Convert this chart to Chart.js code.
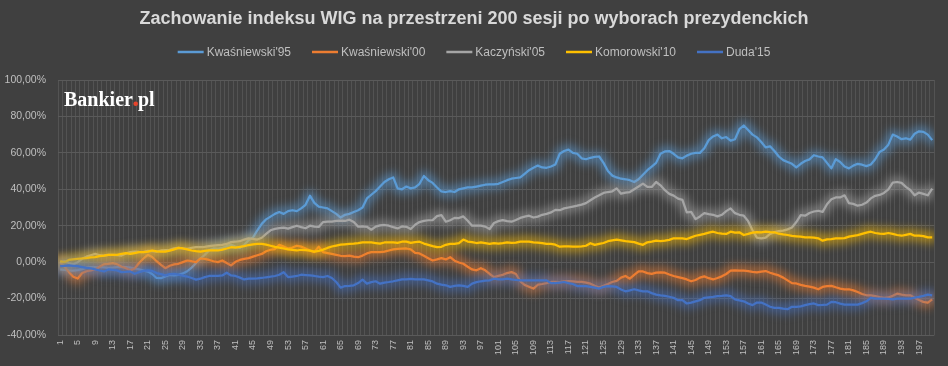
<!DOCTYPE html>
<html>
<head>
<meta charset="utf-8">
<script src="https://cdn.jsdelivr.net/npm/chart.js@4.4.1/dist/chart.umd.min.js"></script>
<style>
  html, body { margin: 0; padding: 0; background: #404040; }
  canvas { display: block; }
</style>
</head>
<body>
<canvas id="wig" width="948" height="366"></canvas>
<script>
// sesje 1..200 po wyborach
const sesje = Array.from({length: 200}, (_, i) => String(i + 1))

const tytul = 'Zachowanie indeksu WIG na przestrzeni 200 sesji po wyborach prezydenckich'
const nazwy = ["Kwaśniewski'95", "Kwaśniewski'00", "Kaczyński'05", "Komorowski'10", "Duda'15"]
const kolory = ['#5B9BD5', '#ED7D31', '#A5A5A5', '#FFC000', '#4472C4']
const osY = [-40, -20, 0, 20, 40, 60, 80, 100]

// zmiana WIG w % wzgledem dnia wyborow
const kwasniewski95 = [
  -4.0, -4.2, -4.5, -4.6, -4.4, -3.8, -3.0, -2.7, -2.8, -2.7,
  -2.9, -3.2, -3.0, -2.8, -2.6, -2.7, -3.0, -3.5, -4.0, -4.6,
  -5.2, -6.5, -8.7, -8.8, -7.8, -7.0, -7.2, -7.0, -6.2, -5.0,
  -3.0, -0.5, 2.0, 4.0, 6.5, 7.5, 7.3, 7.8, 8.8, 9.5,
  8.5, 7.8, 9.5, 12.0, 13.5, 17.5, 21.0, 23.5, 25.0, 26.5,
  27.5, 26.5, 28.0, 28.5, 28.0, 29.5, 31.5, 36.5, 32.5, 30.5,
  30.0, 29.5, 28.0, 26.5, 24.5, 26.0, 26.5, 27.5, 28.5, 30.0,
  35.0, 37.0, 39.0, 41.5, 44.0, 45.5, 46.5, 40.5, 40.0, 41.5,
  40.5, 41.0, 43.0, 47.3, 45.0, 43.5, 41.0, 38.8, 38.5, 39.0,
  38.5, 40.0, 40.5, 41.0, 41.0, 41.5, 42.0, 42.5, 42.7, 42.7,
  43.0, 44.0, 45.0, 45.8, 46.2, 46.5, 48.5, 50.5, 51.8, 53.0,
  52.0, 51.8, 52.5, 53.6, 59.5, 61.0, 61.8, 60.0, 59.5, 57.0,
  56.5, 57.3, 57.8, 58.0, 54.5, 50.0, 47.5, 46.5, 45.8, 45.5,
  45.0, 44.0, 45.5, 48.0, 50.5, 52.5, 54.5, 59.5, 60.8, 61.0,
  59.5, 57.5, 57.0, 58.5, 59.5, 60.0, 60.0, 62.5, 67.0, 69.0,
  70.0, 68.0, 68.7, 66.7, 67.5, 73.0, 75.0, 72.5, 70.0, 68.5,
  66.0, 63.0, 63.6, 61.0, 58.0, 56.0, 55.0, 54.0, 52.0, 54.0,
  55.5, 56.4, 58.7, 58.0, 57.5, 54.5, 51.5, 56.5, 55.0, 52.5,
  51.5, 53.0, 54.0, 53.5, 52.7, 53.6, 56.5, 60.5, 61.8, 64.5,
  70.0, 69.0, 67.5, 68.0, 67.3, 70.5, 71.8, 71.5, 70.0, 67.0
]
const kwasniewski00 = [
  0.0, -2.5, -5.5, -8.0, -9.0, -6.0, -5.0, -4.5, -4.0, -2.5,
  -1.2, -1.0, -0.5, -1.2, -2.5, -3.3, -4.5, -3.5, -0.5, 2.0,
  4.0, 2.8, 0.5, -1.5, -3.3, -2.0, -1.2, -0.9, 0.0, 0.9,
  0.5, 0.0, 2.0, 1.8, 1.2, 0.5, 0.0, 0.9, -0.5, -1.8,
  0.2, 1.2, 1.8, 2.2, 3.0, 3.8, 4.5, 6.0, 6.8, 7.2,
  9.5, 8.5, 7.5, 8.0, 9.0, 8.5, 7.5, 6.4, 5.5, 8.5,
  5.5, 5.0, 4.5, 4.0, 3.5, 3.3, 3.6, 3.0, 2.7, 3.6,
  4.8, 5.5, 5.5, 5.5, 5.8, 6.4, 7.0, 7.3, 7.4, 7.5,
  7.0, 5.1, 4.8, 3.5, 2.2, 0.9, 1.5, 2.2, 1.5, 2.7,
  0.8, -0.2, -0.9, -2.5, -4.0, -4.5, -3.3, -4.5, -6.5, -8.2,
  -7.5, -7.0, -6.0, -5.5, -6.5, -10.5, -12.5, -13.5, -14.5, -12.4,
  -12.0, -11.5, -10.9, -10.9, -11.0, -10.5, -10.4, -10.6, -10.8, -10.8,
  -11.2, -11.8, -13.0, -14.0, -13.0, -12.0, -10.9, -10.3, -8.5, -7.6,
  -9.1, -7.0, -5.1, -5.1, -6.0, -6.4, -5.8, -5.6, -5.8, -6.8,
  -7.6, -8.2, -8.8, -9.5, -10.5, -9.8, -8.5, -7.8, -8.8, -9.5,
  -8.7, -7.8, -6.5, -4.7, -4.5, -4.7, -4.7, -4.9, -5.3, -5.6,
  -5.2, -4.9, -5.8, -6.6, -7.3, -8.5, -10.0, -11.5, -11.7, -12.5,
  -13.0, -13.4, -14.0, -14.9, -13.6, -13.2, -13.0, -13.8, -14.5, -14.9,
  -14.9, -15.5, -16.4, -17.5, -18.2, -18.2, -18.6, -19.2, -19.6, -19.4,
  -18.5, -17.3, -17.8, -18.2, -18.2, -19.5, -20.8, -21.8, -22.2, -20.4
]
const kaczynski05 = [
  0.0, 0.5, -0.5, -1.2, 0.0, 1.8, 3.0, 3.8, 4.5, 3.8,
  3.6, 4.0, 4.0, 3.8, 3.6, 4.8, 5.5, 5.8, 5.6, 5.5,
  6.2, 6.0, 5.8, 6.4, 6.6, 6.8, 7.6, 7.8, 7.6, 7.3,
  7.8, 8.2, 8.2, 8.4, 8.8, 9.1, 9.3, 9.5, 10.0, 11.0,
  11.2, 11.5, 12.4, 13.0, 12.8, 12.4, 13.4, 15.5, 17.5, 18.3,
  18.7, 18.9, 18.4, 19.2, 20.0, 19.2, 18.6, 20.0, 19.5, 19.3,
  22.0, 22.2, 22.3, 22.7, 22.8, 22.6, 23.3, 22.0, 19.5, 19.6,
  19.4, 17.8, 19.5, 20.2, 20.4, 20.0, 19.2, 18.5, 19.6, 19.4,
  18.2, 20.5, 22.0, 22.7, 23.0, 23.1, 25.3, 25.8, 22.2, 23.0,
  24.3, 24.2, 25.1, 22.7, 20.0, 20.0, 20.0, 19.5, 18.2, 21.5,
  22.5, 23.1, 22.5, 22.2, 23.1, 24.3, 25.0, 25.5, 24.5, 25.0,
  26.0, 26.5, 27.3, 28.7, 28.5, 29.5, 30.0, 30.5, 31.0, 31.6,
  32.4, 34.0, 35.5, 36.7, 38.0, 38.5, 38.9, 40.5, 37.6, 38.2,
  38.5, 40.0, 41.5, 43.1, 41.3, 41.3, 44.0, 42.2, 39.5, 37.5,
  36.5, 34.9, 34.2, 27.3, 27.6, 23.6, 25.1, 26.9, 26.4, 26.0,
  25.1, 26.0, 28.0, 29.5, 26.9, 26.0, 25.5, 22.5, 17.5, 13.5,
  13.1, 13.5, 15.5, 16.5, 17.0, 17.3, 18.0, 19.0, 22.0, 25.8,
  25.5, 27.0, 27.8, 28.2, 27.6, 31.8, 34.5, 35.5, 35.5, 36.7,
  32.4, 32.0, 31.0, 31.5, 32.7, 35.0, 36.4, 36.9, 38.0, 40.0,
  43.6, 44.0, 43.5, 41.3, 39.6, 36.7, 38.2, 37.5, 36.7, 40.4
]
const komorowski10 = [
  0.4, 0.0, 1.2, 1.5, 1.8, 2.0, 2.2, 2.6, 2.8, 3.3,
  3.6, 4.0, 4.0, 4.0, 4.6, 4.9, 4.5, 5.0, 5.5, 5.5,
  5.8, 6.4, 5.9, 5.8, 5.8, 6.3, 7.0, 7.8, 7.5, 7.0,
  6.4, 6.0, 5.8, 6.2, 6.4, 6.4, 6.4, 6.9, 7.5, 8.2,
  8.0, 8.4, 8.8, 9.4, 9.8, 10.0, 10.0, 9.6, 9.0, 8.4,
  8.0, 7.5, 7.0, 6.7, 6.4, 6.8, 6.6, 6.3, 5.8, 6.2,
  6.9, 7.8, 8.6, 9.1, 9.6, 9.8, 10.0, 10.2, 10.5, 10.9,
  10.9, 10.8, 10.5, 10.2, 10.8, 10.9, 10.8, 10.6, 11.2, 11.3,
  10.6, 11.0, 11.2, 10.2, 9.5, 8.8, 8.2, 8.4, 9.5, 10.0,
  10.0, 10.4, 12.4, 11.3, 11.0, 10.5, 10.8, 10.4, 10.0, 10.4,
  10.2, 10.5, 10.9, 10.6, 10.7, 11.3, 11.2, 11.3, 10.9, 10.7,
  10.4, 10.0, 10.0, 9.6, 8.5, 8.7, 8.6, 8.5, 8.5, 8.7,
  9.0, 10.4, 9.5, 10.0, 10.5, 11.5, 12.0, 12.4, 12.0, 11.5,
  11.3, 11.0, 10.2, 9.5, 10.9, 11.3, 11.8, 11.6, 11.8, 12.2,
  13.1, 13.1, 13.0, 12.7, 13.6, 14.5, 15.0, 15.5, 16.2, 16.7,
  16.0, 15.6, 15.5, 16.7, 16.2, 16.4, 14.9, 15.5, 16.2, 16.5,
  16.4, 16.7, 16.5, 16.4, 15.6, 15.2, 14.9, 14.4, 14.2, 14.0,
  13.6, 13.6, 13.5, 13.1, 11.8, 12.5, 12.7, 13.0, 13.0, 13.2,
  14.0, 14.4, 14.8, 15.5, 16.2, 16.7, 16.0, 15.7, 15.5, 16.0,
  15.5, 14.9, 14.5, 15.0, 15.5, 14.5, 14.5, 14.3, 13.6, 13.6
]
const duda15 = [
  -2.2, -2.0, -1.8, -2.0, -2.2, -2.7, -3.2, -3.4, -4.0, -4.6,
  -5.1, -4.0, -4.2, -4.5, -5.5, -5.4, -5.1, -6.4, -5.5, -4.8,
  -4.5, -4.8, -6.0, -6.6, -7.3, -6.6, -6.5, -6.9, -7.4, -7.9,
  -8.7, -9.6, -9.1, -8.2, -7.6, -7.6, -7.5, -7.3, -5.8, -7.3,
  -7.6, -8.5, -9.5, -9.1, -9.0, -8.9, -8.7, -8.3, -8.0, -7.6,
  -6.9, -5.5, -8.2, -7.9, -7.6, -6.9, -7.1, -7.3, -7.6, -8.0,
  -8.2, -7.6, -8.7, -10.9, -14.0, -13.1, -13.0, -12.7, -11.5, -9.6,
  -11.8, -11.0, -10.5, -11.8, -11.2, -10.9, -10.5, -10.0, -9.5, -9.5,
  -9.2, -9.5, -9.4, -9.5, -10.0, -10.6, -11.8, -12.3, -12.7, -13.6,
  -13.0, -12.7, -13.0, -13.6, -11.8, -11.0, -10.5, -10.2, -10.0, -9.1,
  -9.5, -9.4, -9.1, -9.5, -9.8, -10.0, -10.0, -10.0, -10.0, -10.0,
  -10.0, -10.0, -11.5, -11.5, -11.2, -10.9, -11.5, -12.0, -13.1, -13.1,
  -13.2, -13.6, -14.0, -14.5, -13.6, -13.2, -13.3, -13.6, -15.0, -16.0,
  -15.5, -14.9, -15.5, -16.0, -16.0, -17.0, -17.8, -18.2, -18.5, -19.0,
  -19.6, -20.9, -20.9, -22.7, -22.2, -21.5, -20.9, -19.6, -19.3, -19.1,
  -18.7, -18.5, -18.2, -18.7, -20.4, -21.0, -21.5, -22.7, -23.6, -22.2,
  -22.2, -23.3, -24.5, -25.1, -25.1, -25.5, -25.8, -24.5, -24.5, -24.3,
  -23.6, -23.0, -22.7, -23.6, -23.5, -23.3, -21.8, -22.0, -22.8, -23.3,
  -23.3, -23.3, -23.3, -22.5, -21.5, -19.6, -20.0, -20.0, -20.0, -20.2,
  -20.4, -20.0, -20.0, -20.0, -20.0, -19.5, -19.1, -18.5, -17.8, -18.2
]
const serie = [kwasniewski95, kwasniewski00, kaczynski05, komorowski10, duda15]

function rgba(hex, a) {
  let n = parseInt(hex.slice(1), 16)
  return 'rgba(' + (n >> 16) + ',' + ((n >> 8) & 255) + ',' + (n & 255) + ',' + a + ')'
}

// poswiata pod liniami jak w Excelu - rozmyta sciezka tej samej linii
const poswiata = {
  id: 'poswiata',
  beforeDatasetDraw(chart, args) {
    let ctx = chart.ctx
    let linia = args.meta.dataset
    if (!linia || !linia.path) return
    ctx.save()
    ctx.beginPath()
    ctx.rect(chart.chartArea.left, chart.chartArea.top - 5,
      chart.chartArea.right - chart.chartArea.left, chart.chartArea.bottom - chart.chartArea.top + 10)
    ctx.clip()
    ctx.filter = 'blur(5px)'
    ctx.strokeStyle = rgba(kolory[args.index], 0.6)
    ctx.lineWidth = 10
    ctx.lineJoin = 'round'
    ctx.lineCap = 'round'
    ctx.beginPath()
    linia.path(ctx)
    ctx.stroke()
    ctx.restore()
  }
}

// tytul, legenda i logo
const naglowek = {
  id: 'naglowek',
  beforeDraw(chart) {
    let ctx = chart.ctx
    ctx.save()
    ctx.fillStyle = '#404040'
    ctx.fillRect(0, 0, chart.width, chart.height)
    ctx.restore()
  },
  afterDraw(chart) {
    let ctx = chart.ctx
    ctx.save()
    ctx.fillStyle = '#d9d9d9'
    ctx.font = 'bold 18px "Liberation Sans", Arial, sans-serif'
    ctx.textAlign = 'center'
    ctx.textBaseline = 'middle'
    ctx.fillText(tytul, chart.width / 2, 19)

    ctx.font = '12px "Liberation Sans", Arial, sans-serif'
    let liniaW = 26, odstep = 3, przerwa = 21
    let szer = nazwy.map(n => ctx.measureText(n).width)
    let razem = szer.reduce((a, b) => a + b, 0) + nazwy.length * (liniaW + odstep) + (nazwy.length - 1) * przerwa
    let x = chart.width / 2 - razem / 2
    let y = 52
    ctx.textAlign = 'left'
    nazwy.forEach((n, i) => {
      ctx.strokeStyle = kolory[i]
      ctx.lineWidth = 2.5
      ctx.beginPath()
      ctx.moveTo(x, y)
      ctx.lineTo(x + liniaW, y)
      ctx.stroke()
      ctx.fillStyle = '#bfbfbf'
      ctx.fillText(n, x + liniaW + odstep, y + 0.5)
      x += liniaW + odstep + szer[i] + przerwa
    })

    ctx.textBaseline = 'alphabetic'
    ctx.font = 'bold 20px "Liberation Serif", "Times New Roman", serif'
    let lx = 64, ly = 106
    ctx.fillStyle = '#ffffff'
    ctx.fillText('Bankier', lx, ly)
    lx += ctx.measureText('Bankier').width
    ctx.fillStyle = '#e8452c'
    ctx.beginPath()
    ctx.arc(lx + 2.8, ly - 2.2, 2.3, 0, Math.PI * 2)
    ctx.fill()
    lx += ctx.measureText('.').width
    ctx.fillStyle = '#ffffff'
    ctx.fillText('pl', lx, ly)
    ctx.restore()
  }
}

new Chart(document.getElementById('wig'), {
  type: 'line',
  data: {
    labels: sesje,
    datasets: serie.map((d, i) => ({
      label: nazwy[i],
      data: d,
      borderColor: kolory[i],
      backgroundColor: kolory[i],
      borderWidth: 2.25,
      pointRadius: 0,
      tension: 0,
      fill: false,
      borderJoinStyle: 'round',
      order: serie.length - i
    }))
  },
  options: {
    responsive: false,
    animation: false,
    layout: { padding: { top: 80, right: 11, left: 0, bottom: 0 } },
    plugins: {
      legend: { display: false },
      title: { display: false },
      tooltip: { enabled: false }
    },
    scales: {
      x: {
        type: 'category',
        offset: true,
        afterFit: s => { s.height = 31 },
        grid: { offset: true, color: 'rgba(255,255,255,0.1)', drawTicks: false },
        border: { display: false },
        ticks: {
          autoSkip: false,
          minRotation: 90,
          maxRotation: 90,
          padding: 5,
          color: '#bfbfbf',
          font: { family: '"Liberation Sans", Arial, sans-serif', size: 9 },
          callback: (v, i) => i % 4 === 0 ? sesje[i] : ''
        }
      },
      y: {
        min: osY[0],
        max: osY[osY.length - 1],
        afterFit: s => { s.width = 58 },
        afterBuildTicks: s => { s.ticks = osY.map(v => ({ value: v })) },
        grid: { color: '#5a5a5a', drawTicks: false },
        border: { display: false },
        ticks: {
          padding: 12,
          color: '#bfbfbf',
          font: { family: '"Liberation Sans", Arial, sans-serif', size: 10.5 },
          callback: v => v.toFixed(2).replace('.', ',') + '%'
        }
      }
    }
  },
  plugins: [naglowek, poswiata]
})
</script>
</body>
</html>
